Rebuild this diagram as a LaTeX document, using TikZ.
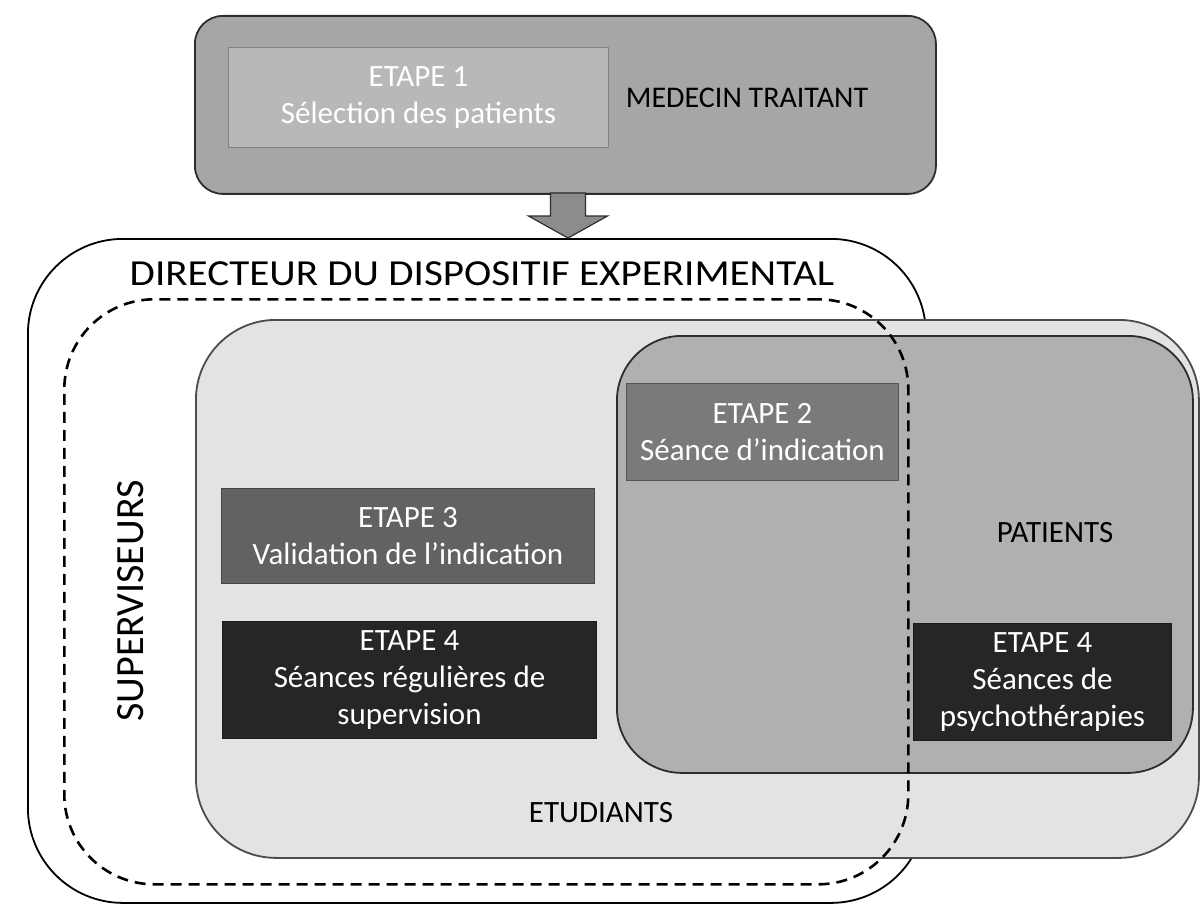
\documentclass[tikz,border=0pt]{standalone}
\usepackage{fontspec}
\setmainfont{Carlito}
\newfontfamily\widefont[FakeStretch=1.12]{Carlito}
\definecolor{LineDark}{RGB}{45, 45, 45}
\definecolor{TopGray}{RGB}{166, 166, 166}
\definecolor{StepOne}{RGB}{184, 184, 184}
\definecolor{ArrowGray}{RGB}{140, 140, 140}
\definecolor{StudGray}{RGB}{227, 227, 227}
\definecolor{PatGray}{RGB}{176, 176, 176}
\definecolor{StepTwo}{RGB}{122, 122, 122}
\definecolor{StepThree}{RGB}{98, 98, 98}
\definecolor{StepFour}{RGB}{38, 38, 38}
\usetikzlibrary{positioning}

\begin{document}
\begin{tikzpicture}[
            x=1pt, y=-1pt,
            zone/.style={rectangle, anchor=north west, inner sep=0pt, line width=1.8pt},
            stepbox/.style={rectangle, anchor=north west, inner sep=0pt, draw=#1!70!black,
                            fill=#1, line width=1pt, text=white, align=center,
                            font=\fontsize{31}{37}\selectfont},
            label/.style={anchor=base, font=\fontsize{31}{37}\selectfont},
            bigarrow/.style={draw=LineDark, fill=ArrowGray, line width=1.2pt, line join=miter}
        ]
            \useasboundingbox (0,0) rectangle (1201,904);

            % Containers
            \node[zone, draw=LineDark, fill=TopGray, rounded corners=28pt,
                  minimum width=741pt, minimum height=178pt] (medecin) at (194,15) {};
            \node[zone, draw=black, fill=white, rounded corners=95pt,
                  minimum width=898pt, minimum height=664pt] (directeur) at (27,238) {};
            \node[zone, draw=black!70, fill=StudGray, rounded corners=80pt,
                  minimum width=1003pt, minimum height=538pt] (etudiants) at (195,319) {};
            \node[zone, draw=LineDark, fill=PatGray, rounded corners=65pt,
                  minimum width=576pt, minimum height=437pt] (patients) at (616,335) {};

            % Steps
            \node[stepbox=StepOne, minimum width=380pt, minimum height=100pt]
                (etape1) at (228,47) {ETAPE 1\\Sélection des patients};
            \node[stepbox=StepTwo, minimum width=272pt, minimum height=97pt]
                (etape2) at (626,383) {ETAPE 2\\Séance d’indication};
            \node[stepbox=StepThree, minimum width=373pt, minimum height=95pt]
                (etape3) at (221,488) {ETAPE 3\\Validation de l’indication};
            \node[stepbox=StepFour, minimum width=374pt, minimum height=117pt]
                (etape4sup) at (222,621) {ETAPE 4\\Séances régulières de\\supervision};
            \node[stepbox=StepFour, minimum width=258pt, minimum height=117pt]
                (etape4psy) at (913,623) {ETAPE 4\\Séances de\\psychothérapies};

            % Supervisors
            \node[zone, draw=black, line width=2.6pt, dash pattern=on 11pt off 7pt,
                  rounded corners=90pt, minimum width=844pt, minimum height=585pt]
                (superviseurs) at (63,298) {};

            % Labels
            \node[label, font=\fontsize{30}{36}\selectfont] (medecinlbl) at (747,108) {MEDECIN TRAITANT};
            \node[anchor=base, font=\widefont\fontsize{36.7}{40}\selectfont] (directeurlbl) at (482,285)
                {DIRECTEUR DU DISPOSITIF EXPERIMENTAL};
            \node[anchor=base, rotate=90, font=\fontsize{40}{44}\selectfont] (superlbl) at (143,601)
                {SUPERVISEURS};
            \node[label] (patientslbl) at (1055,542) {PATIENTS};
            \node[label] (etudiantslbl) at (601,822) {ETUDIANTS};

            % Arrow
            \coordinate (arrtip) at (568,238);
            \draw[bigarrow] (arrtip) -- ++(39.5,-22) -- ++(-22,0) -- ++(0,-23)
                -- ++(-35,0) -- ++(0,23) -- ++(-22,0) -- cycle;
        \end{tikzpicture}
\end{document}
